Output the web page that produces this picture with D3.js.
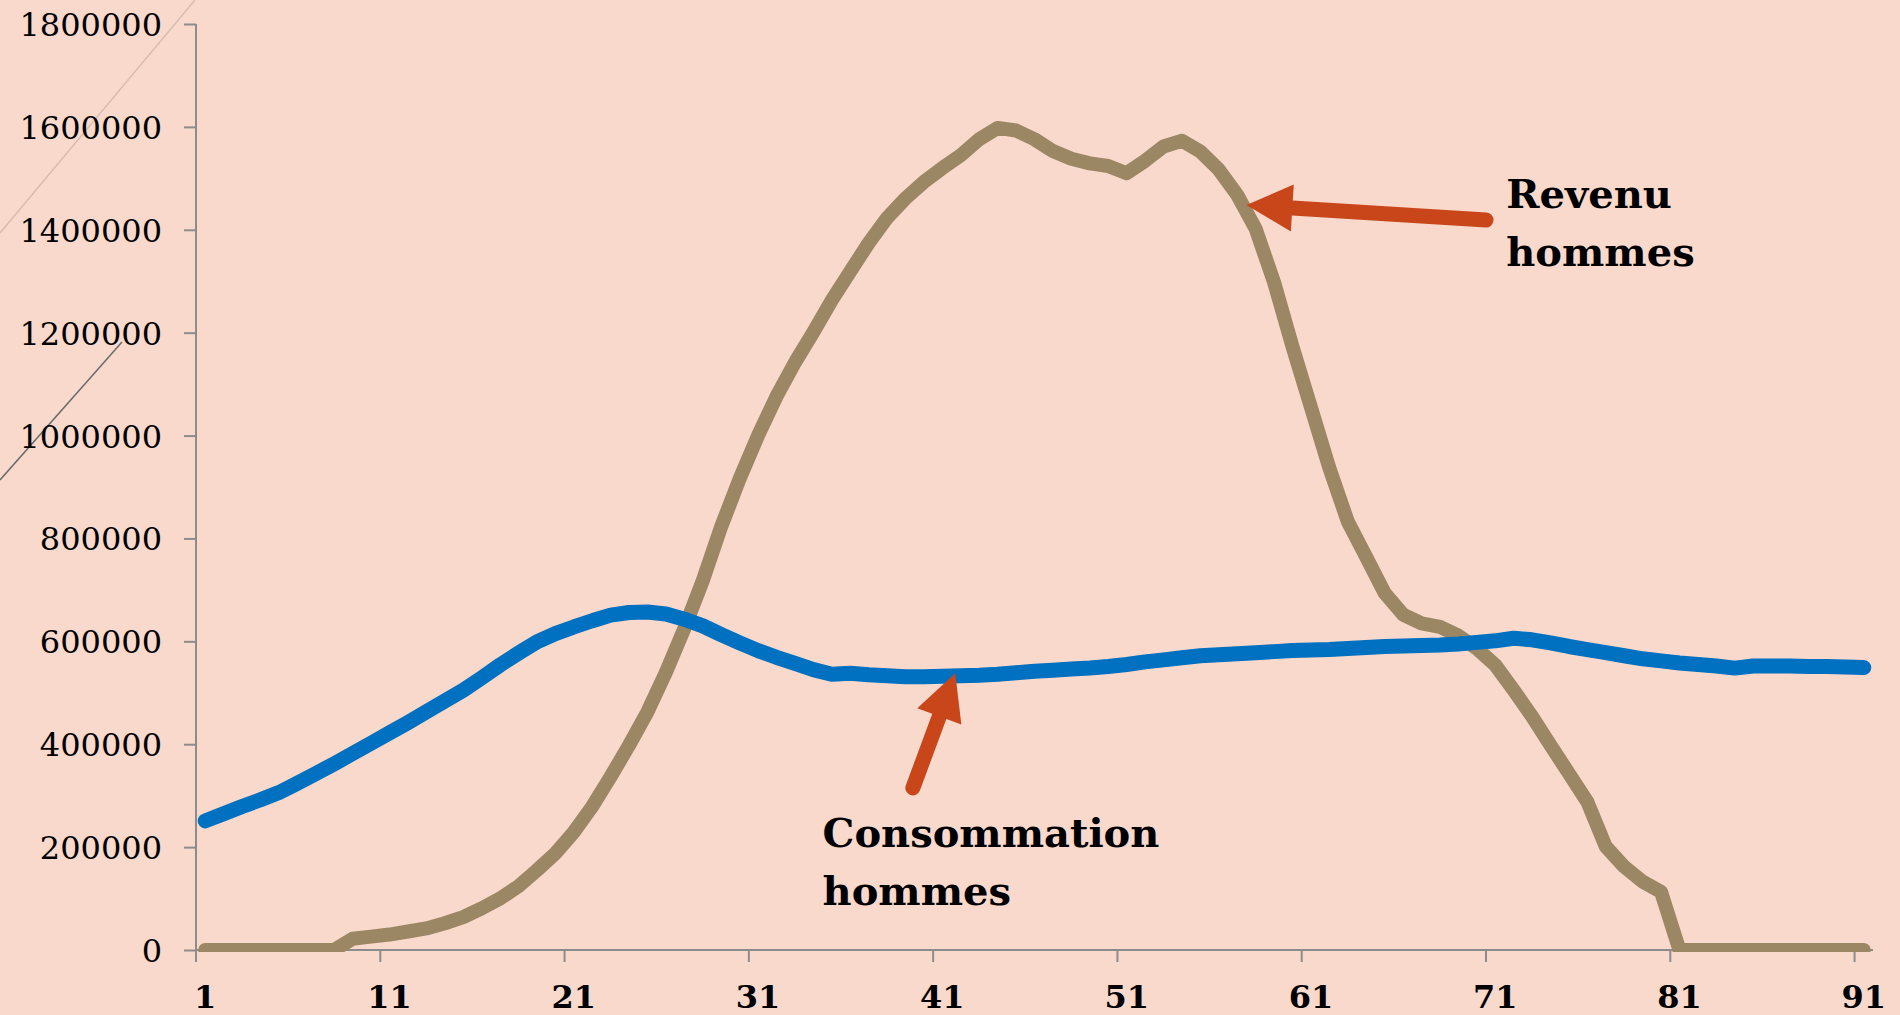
<html>
<head>
<meta charset="utf-8">
<script src="https://cdnjs.cloudflare.com/ajax/libs/d3/7.8.5/d3.min.js"></script>
<style>
  html, body { margin: 0; padding: 0; background: #f9d9cc; overflow: hidden; }
  svg { display: block; }
  .ylab { font-family: "DejaVu Serif", serif; font-size: 32px; fill: #000; }
  .xlab { font-family: "DejaVu Serif", serif; font-size: 32px; font-weight: bold; fill: #000; }
  .note { font-family: "DejaVu Serif", serif; font-size: 40px; font-weight: bold; fill: #000; }
</style>
</head>
<body>
<svg id="chart" width="1900" height="1015"></svg>
<script>

// ages 1..91
var ages = d3.range(1, 92);

// consommation hommes
var consommation = [
  251000, 265000, 279000, 292000, 306000, 324000, 343000, 362000, 382000, 402000,
  422000, 442000, 463000, 484000, 505000, 529000, 554000, 577000, 599000, 615000,
  628000, 640000, 651000, 656000, 657000, 653000, 643000, 630000, 613000, 597000,
  582000, 569000, 557000, 545000, 536000, 538000, 535000, 533000, 531000, 531000,
  532000, 533000, 534000, 536000, 539000, 542000, 544000, 546000, 548000, 551000,
  555000, 560000, 564000, 568000, 572000, 574000, 576000, 578000, 580000, 582000,
  583000, 584000, 586000, 588000, 590000, 591000, 592000, 593000, 595000, 598000,
  601000, 606000, 603000, 597000, 590000, 584000, 578000, 572000, 566000, 562000,
  558000, 555000, 552000, 548000, 552000, 552000, 552000, 551000, 551000, 550000,
  549000
];

// revenu hommes
var revenu = [
  0, 0, 0, 0, 0, 0, 0, 0, 22000, 26000,
  30000, 36000, 42000, 52000, 64000, 81000, 100000, 124000, 155000, 188000,
  229000, 279000, 337000, 398000, 463000, 540000, 625000, 718000, 823000, 916000,
  1000000, 1076000, 1142000, 1201000, 1263000, 1319000, 1374000, 1423000, 1461000, 1493000,
  1520000, 1545000, 1576000, 1598000, 1593000, 1576000, 1553000, 1538000, 1529000, 1524000,
  1510000, 1534000, 1562000, 1573000, 1552000, 1517000, 1468000, 1402000, 1298000, 1173000,
  1055000, 937000, 833000, 764000, 694000, 652000, 635000, 628000, 611000, 586000,
  554000, 505000, 454000, 398000, 343000, 288000, 201000, 162000, 133000, 113000,
  0, 0, 0, 0, 0, 0, 0, 0, 0, 0,
  0
];

var xTicks = [1, 11, 21, 31, 41, 51, 61, 71, 81, 91];
var yTicks = [0, 200000, 400000, 600000, 800000, 1000000, 1200000, 1400000, 1600000, 1800000];

// annotations (age, value)
var notes = [
  { lines: ["Revenu", "hommes"], at: [71.6, 1442000], tail: [70.5, 1419000], tip: [57.5, 1448000] },
  { lines: ["Consommation", "hommes"], at: [34.5, 200000], tail: [39.4, 315000], tip: [41.7, 538000] }
];

var plotL = 196, plotR = 1873, plotT = 24, plotB = 950;

var svg = d3.select("#chart");

var x = d3.scaleBand().domain(ages).range([plotL, plotR]).padding(0);
var xc = function(a){ return x(a) + x.bandwidth() / 2; };
var y = d3.scaleLinear().domain([0, 1800000]).range([plotB, plotT]);
// continuous age -> px, for the annotations
var xa = d3.scaleLinear().domain([0.5, 91.5]).range([plotL, plotR]);

// decorative slide lines in the corner
svg.append("line").attr("x1", 0).attr("y1", 233).attr("x2", 195).attr("y2", 0)
  .attr("stroke", "#d8bdb2").attr("stroke-width", 1.5);
svg.append("line").attr("x1", 0).attr("y1", 480).attr("x2", 122).attr("y2", 342)
  .attr("stroke", "#6a6a6a").attr("stroke-width", 1.5);

// y axis
var yAxis = svg.append("g")
  .attr("transform", "translate(" + plotL + ",0)")
  .call(d3.axisLeft(y).tickValues(yTicks).tickSize(12).tickPadding(22).tickFormat(d3.format("d")));
yAxis.select(".domain").remove();
yAxis.selectAll(".tick line").attr("stroke", "#8c8c8c").attr("stroke-width", 2);
yAxis.selectAll(".tick text").attr("class", "ylab").attr("dy", "0.36em");
yAxis.attr("font-family", null).attr("font-size", null);
svg.append("line").attr("x1", plotL).attr("x2", plotL).attr("y1", plotT).attr("y2", plotB + 12)
  .attr("stroke", "#8c8c8c").attr("stroke-width", 2);

// x axis
svg.append("line").attr("x1", plotL).attr("x2", plotR).attr("y1", plotB).attr("y2", plotB)
  .attr("stroke", "#8c8c8c").attr("stroke-width", 2);
svg.append("g").selectAll("line").data(xTicks).enter().append("line")
  .attr("x1", function(d){ return x(d); }).attr("x2", function(d){ return x(d); })
  .attr("y1", plotB).attr("y2", plotB + 12)
  .attr("stroke", "#8c8c8c").attr("stroke-width", 2);
svg.append("g").selectAll("text").data(xTicks).enter().append("text")
  .attr("class", "xlab")
  .attr("x", function(d){ return xc(d); })
  .attr("y", 1008)
  .attr("text-anchor", "middle")
  .text(function(d){ return d; });

// lines, clipped to plot area like the original
svg.append("clipPath").attr("id", "plot")
  .append("rect").attr("x", plotL).attr("y", 0).attr("width", plotR - plotL + 20).attr("height", plotB + 2);

var line = d3.line()
  .x(function(d, i){ return xc(ages[i]); })
  .y(function(d){ return y(d); });

var g = svg.append("g").attr("clip-path", "url(#plot)");
g.append("path").datum(revenu).attr("d", line)
  .attr("fill", "none").attr("stroke", "#9c8764").attr("stroke-width", 14)
  .attr("stroke-linejoin", "round").attr("stroke-linecap", "round");
g.append("path").datum(consommation).attr("d", line)
  .attr("fill", "none").attr("stroke", "#0070c0").attr("stroke-width", 15)
  .attr("stroke-linejoin", "round").attr("stroke-linecap", "round");

// arrows + notes
var arrowCol = "#c9461a";
notes.forEach(function(n){
  var tx = xa(n.tail[0]), ty = y(n.tail[1]);
  var px = xa(n.tip[0]), py = y(n.tip[1]);
  var dx = px - tx, dy = py - ty, len = Math.sqrt(dx*dx + dy*dy);
  var ux = dx / len, uy = dy / len;
  var hl = 46, hw = 23.5;
  var bx = px - ux * hl, by = py - uy * hl;
  svg.append("line").attr("x1", tx).attr("y1", ty).attr("x2", bx + ux * 4).attr("y2", by + uy * 4)
    .attr("stroke", arrowCol).attr("stroke-width", 15).attr("stroke-linecap", "round");
  svg.append("polygon")
    .attr("points", [[px, py], [bx - uy * hw, by + ux * hw], [bx + uy * hw, by - ux * hw]].join(" "))
    .attr("fill", arrowCol);

  var t = svg.append("text").attr("class", "note")
    .attr("x", xa(n.at[0])).attr("y", y(n.at[1]));
  n.lines.forEach(function(s, i){
    t.append("tspan").attr("x", xa(n.at[0])).attr("dy", i == 0 ? 0 : 58).text(s);
  });
});

</script>
</body>
</html>
